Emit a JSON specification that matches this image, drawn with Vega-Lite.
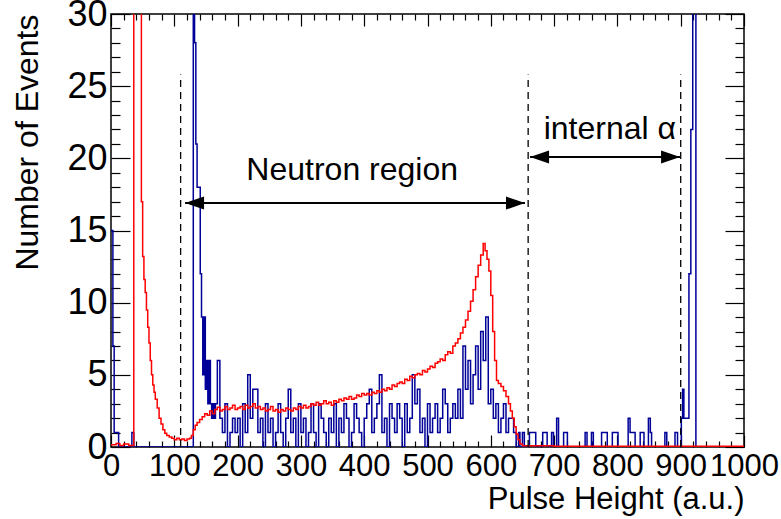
{
  "$schema": "https://vega.github.io/schema/vega-lite/v6.json",
  "width": 633,
  "height": 433,
  "autosize": {"type": "none"},
  "padding": {"left": 111, "top": 14, "right": 37, "bottom": 72},
  "background": "white",
  "config": {
    "view": {"stroke": "black", "strokeWidth": 1.5},
    "font": "Liberation Sans"
  },
  "datasets": {
    "red": [
      {"x":0,"y":0.15},{"x":8,"y":0.25},{"x":14,"y":0.1},{"x":20,"y":0.2},{"x":28,"y":0.1},{"x":36,"y":45},{"x":48,"y":17},{"x":50,"y":13.2},{"x":52,"y":11.6},{"x":54,"y":10.7},{"x":56,"y":9.5},{"x":58,"y":8.3},{"x":60,"y":7.2},{"x":62,"y":6.0},{"x":64,"y":5.0},{"x":66,"y":4.3},{"x":68,"y":3.8},{"x":70,"y":3.3},{"x":73,"y":2.7},{"x":76,"y":2.0},{"x":79,"y":1.6},{"x":82,"y":1.2},{"x":85,"y":0.95},{"x":88,"y":0.8},{"x":92,"y":0.7},{"x":96,"y":0.6},{"x":100,"y":0.5},{"x":104,"y":0.6},{"x":108,"y":0.5},{"x":112,"y":0.55},{"x":116,"y":0.45},{"x":120,"y":0.55},{"x":124,"y":0.6},{"x":127,"y":0.8},{"x":130,"y":1.2},{"x":133,"y":1.5},{"x":136,"y":1.7},{"x":140,"y":1.9},{"x":144,"y":2.1},{"x":148,"y":2.3},{"x":152,"y":2.2},{"x":156,"y":2.5},{"x":160,"y":2.3},{"x":164,"y":2.6},{"x":168,"y":2.75},{"x":172,"y":2.5},{"x":176,"y":2.6},{"x":180,"y":2.8},{"x":184,"y":2.6},{"x":188,"y":2.7},{"x":192,"y":2.9},{"x":196,"y":2.6},{"x":200,"y":2.7},{"x":204,"y":2.8},{"x":208,"y":2.6},{"x":212,"y":2.9},{"x":216,"y":2.7},{"x":220,"y":2.8},{"x":224,"y":3.0},{"x":228,"y":2.7},{"x":232,"y":2.8},{"x":236,"y":2.6},{"x":240,"y":2.7},{"x":244,"y":2.5},{"x":248,"y":2.6},{"x":252,"y":2.8},{"x":256,"y":2.5},{"x":260,"y":2.6},{"x":264,"y":2.4},{"x":268,"y":2.6},{"x":272,"y":2.5},{"x":276,"y":2.7},{"x":280,"y":2.6},{"x":284,"y":2.5},{"x":288,"y":2.7},{"x":292,"y":2.6},{"x":296,"y":2.8},{"x":300,"y":2.7},{"x":304,"y":2.9},{"x":308,"y":2.7},{"x":312,"y":2.8},{"x":316,"y":3.0},{"x":320,"y":2.9},{"x":324,"y":3.1},{"x":328,"y":2.9},{"x":332,"y":3.0},{"x":336,"y":3.2},{"x":340,"y":3.0},{"x":344,"y":3.1},{"x":348,"y":2.9},{"x":352,"y":3.2},{"x":356,"y":3.1},{"x":360,"y":3.3},{"x":364,"y":3.2},{"x":368,"y":3.4},{"x":372,"y":3.3},{"x":376,"y":3.5},{"x":380,"y":3.3},{"x":384,"y":3.4},{"x":388,"y":3.6},{"x":392,"y":3.5},{"x":396,"y":3.7},{"x":400,"y":3.6},{"x":404,"y":3.7},{"x":408,"y":3.6},{"x":412,"y":3.8},{"x":416,"y":3.7},{"x":420,"y":3.9},{"x":424,"y":3.8},{"x":428,"y":4.0},{"x":432,"y":3.9},{"x":436,"y":4.1},{"x":440,"y":4.0},{"x":444,"y":4.3},{"x":448,"y":4.2},{"x":452,"y":4.4},{"x":456,"y":4.5},{"x":460,"y":4.4},{"x":464,"y":4.7},{"x":468,"y":4.6},{"x":472,"y":4.9},{"x":476,"y":4.8},{"x":480,"y":5.0},{"x":484,"y":5.1},{"x":488,"y":5.0},{"x":492,"y":5.3},{"x":496,"y":5.2},{"x":500,"y":5.4},{"x":504,"y":5.6},{"x":508,"y":5.5},{"x":512,"y":5.8},{"x":516,"y":5.9},{"x":520,"y":6.1},{"x":524,"y":6.0},{"x":528,"y":6.4},{"x":532,"y":6.6},{"x":536,"y":6.5},{"x":540,"y":7.0},{"x":544,"y":7.2},{"x":548,"y":7.5},{"x":552,"y":7.9},{"x":556,"y":8.3},{"x":560,"y":8.8},{"x":564,"y":9.4},{"x":568,"y":10.1},{"x":572,"y":10.9},{"x":576,"y":11.8},{"x":580,"y":12.6},{"x":584,"y":13.3},{"x":588,"y":14.1},{"x":591,"y":13.6},{"x":594,"y":13.0},{"x":597,"y":12.2},{"x":600,"y":10.5},{"x":603,"y":8.0},{"x":606,"y":6.0},{"x":609,"y":4.6},{"x":612,"y":4.4},{"x":616,"y":4.2},{"x":620,"y":3.9},{"x":624,"y":3.5},{"x":628,"y":3.0},{"x":631,"y":2.5},{"x":634,"y":2.0},{"x":637,"y":1.4},{"x":640,"y":0.9},{"x":643,"y":0.5},{"x":646,"y":0.2},{"x":650,"y":0.08},{"x":700,"y":0.05},{"x":1000,"y":0.05}
    ],
    "blue": [
      {"x":0,"y":15},{"x":3,"y":7},{"x":5,"y":1},{"x":12,"y":0},{"x":33,"y":1},{"x":36,"y":0},{"x":130,"y":45},{"x":132,"y":28},{"x":134,"y":21},{"x":136,"y":18},{"x":141,"y":12},{"x":143,"y":9},{"x":145,"y":5},{"x":147,"y":9},{"x":149,"y":4},{"x":151,"y":6},{"x":153,"y":3},{"x":155,"y":6},{"x":157,"y":3},{"x":159,"y":2},{"x":161,"y":3},{"x":163,"y":2},{"x":165,"y":3},{"x":168,"y":6},{"x":172,"y":2},{"x":176,"y":1},{"x":180,"y":3},{"x":184,"y":0},{"x":188,"y":1},{"x":192,"y":2},{"x":196,"y":1},{"x":200,"y":2},{"x":204,"y":0},{"x":208,"y":3},{"x":212,"y":1},{"x":216,"y":5},{"x":220,"y":2},{"x":224,"y":4},{"x":228,"y":4},{"x":232,"y":1},{"x":236,"y":2},{"x":240,"y":0},{"x":244,"y":3},{"x":248,"y":1},{"x":252,"y":2},{"x":256,"y":0},{"x":260,"y":1},{"x":264,"y":3},{"x":268,"y":1},{"x":272,"y":0},{"x":276,"y":2},{"x":280,"y":4},{"x":284,"y":1},{"x":288,"y":2},{"x":292,"y":0},{"x":296,"y":3},{"x":300,"y":1},{"x":304,"y":2},{"x":308,"y":0},{"x":312,"y":1},{"x":316,"y":3},{"x":320,"y":1},{"x":324,"y":0},{"x":328,"y":3},{"x":332,"y":2},{"x":336,"y":1},{"x":340,"y":0},{"x":344,"y":2},{"x":348,"y":1},{"x":352,"y":3},{"x":356,"y":0},{"x":360,"y":2},{"x":364,"y":1},{"x":368,"y":3},{"x":372,"y":2},{"x":376,"y":0},{"x":380,"y":1},{"x":384,"y":3},{"x":388,"y":2},{"x":392,"y":1},{"x":396,"y":0},{"x":400,"y":2},{"x":404,"y":3},{"x":408,"y":4},{"x":412,"y":1},{"x":416,"y":2},{"x":420,"y":3},{"x":424,"y":5},{"x":428,"y":1},{"x":432,"y":2},{"x":436,"y":0},{"x":440,"y":3},{"x":444,"y":2},{"x":448,"y":1},{"x":452,"y":3},{"x":456,"y":2},{"x":460,"y":0},{"x":464,"y":3},{"x":468,"y":1},{"x":472,"y":2},{"x":476,"y":5},{"x":480,"y":3},{"x":484,"y":4},{"x":488,"y":1},{"x":492,"y":2},{"x":496,"y":0},{"x":500,"y":3},{"x":504,"y":1},{"x":508,"y":2},{"x":512,"y":3},{"x":516,"y":1},{"x":520,"y":2},{"x":524,"y":4},{"x":528,"y":3},{"x":532,"y":1},{"x":536,"y":2},{"x":540,"y":3},{"x":544,"y":2},{"x":548,"y":4},{"x":552,"y":2},{"x":556,"y":7},{"x":560,"y":4},{"x":564,"y":6},{"x":568,"y":3},{"x":572,"y":5},{"x":576,"y":7},{"x":580,"y":4},{"x":584,"y":8},{"x":588,"y":6},{"x":592,"y":9},{"x":596,"y":3},{"x":600,"y":4},{"x":604,"y":2},{"x":608,"y":3},{"x":612,"y":1},{"x":616,"y":2},{"x":620,"y":3},{"x":624,"y":1},{"x":628,"y":2},{"x":632,"y":2},{"x":636,"y":1},{"x":640,"y":0},{"x":644,"y":1},{"x":646,"y":0},{"x":650,"y":1},{"x":653,"y":0},{"x":661,"y":1},{"x":671,"y":0},{"x":682,"y":1},{"x":689,"y":0},{"x":696,"y":1},{"x":699,"y":0},{"x":704,"y":2},{"x":707,"y":0},{"x":715,"y":1},{"x":721,"y":0},{"x":749,"y":1},{"x":752,"y":0},{"x":759,"y":1},{"x":762,"y":0},{"x":775,"y":1},{"x":784,"y":0},{"x":792,"y":1},{"x":801,"y":0},{"x":817,"y":2},{"x":820,"y":1},{"x":828,"y":0},{"x":836,"y":1},{"x":842,"y":0},{"x":849,"y":2},{"x":852,"y":1},{"x":854,"y":0},{"x":875,"y":1},{"x":878,"y":0},{"x":891,"y":1},{"x":895,"y":0},{"x":901,"y":2},{"x":903,"y":4},{"x":905,"y":2},{"x":913,"y":12},{"x":916,"y":22},{"x":919,"y":60},{"x":924,"y":0},{"x":1000,"y":0}
    ],
    "vlines": [{"x":110,"y":0,"y2":25.8},{"x":659,"y":0,"y2":25.8},{"x":900,"y":0,"y2":25.8}],
    "arrows": [{"x":117,"x2":654,"y":16.9},{"x":662,"x2":899,"y":20.1}],
    "heads": [
      {"x":117,"y":16.9,"dir":"left"},{"x":654,"y":16.9,"dir":"right"},
      {"x":662,"y":20.1,"dir":"left"},{"x":899,"y":20.1,"dir":"right"}
    ],
    "labels": [{"x":381,"y":19.2,"text":"Neutron region"},{"x":788,"y":22.0,"text":"internal α"}]
  },
  "resolve": {"axis": {"x": "independent", "y": "independent"}},
  "layer": [
    {
      "data": {"name": "blue"},
      "mark": {"type": "line", "interpolate": "step-after", "color": "#000099", "strokeWidth": 1.5, "clip": true},
      "encoding": {
        "x": {"field": "x", "type": "quantitative", "scale": {"domain": [0, 1000], "nice": false, "zero": false},
          "axis": {"orient": "bottom", "values": [0,20,40,60,80,100,120,140,160,180,200,220,240,260,280,300,320,340,360,380,400,420,440,460,480,500,520,540,560,580,600,620,640,660,680,700,720,740,760,780,800,820,840,860,880,900,920,940,960,980,1000],
            "format": "d", "labelExpr": "datum.value % 100 === 0 ? datum.label : ''",
            "tickSize": {"condition": {"test": "datum.value % 100 === 0", "value": -12}, "value": -6},
            "labelPadding": 16, "domain": false, "grid": false, "labelOverlap": false, "labelFlush": false,
            "labelFont": "Liberation Sans", "labelFontSize": 31, "labelColor": "black", "tickColor": "black", "tickWidth": 1.2,
            "title": "Pulse Height (a.u.)", "titleAnchor": "end", "titleFont": "Liberation Sans", "titleFontSize": 31, "titleFontWeight": "normal", "titleColor": "black", "titlePadding": -3}},
        "y": {"field": "y", "type": "quantitative", "scale": {"domain": [0, 30], "nice": false, "zero": false},
          "axis": {"orient": "left", "values": [0,1,2,3,4,5,6,7,8,9,10,11,12,13,14,15,16,17,18,19,20,21,22,23,24,25,26,27,28,29,30],
            "format": "d", "labelExpr": "datum.value % 5 === 0 ? datum.label : ''",
            "tickSize": {"condition": {"test": "datum.value % 5 === 0", "value": -19}, "value": -9},
            "labelPadding": 23, "domain": false, "grid": false, "labelOverlap": false, "labelFlush": false,
            "labelFont": "Liberation Sans", "labelFontSize": 36, "labelColor": "black", "tickColor": "black", "tickWidth": 1.2,
            "title": "Number of Events", "titleAnchor": "end", "titleFont": "Liberation Sans", "titleFontSize": 32, "titleFontWeight": "normal", "titleColor": "black", "titlePadding": 22}}
      }
    },
    {
      "data": {"name": "red"},
      "mark": {"type": "line", "interpolate": "step-after", "color": "#ff0000", "strokeWidth": 1.5, "clip": true},
      "encoding": {
        "x": {"field": "x", "type": "quantitative",
          "axis": {"orient": "top", "values": [0,20,40,60,80,100,120,140,160,180,200,220,240,260,280,300,320,340,360,380,400,420,440,460,480,500,520,540,560,580,600,620,640,660,680,700,720,740,760,780,800,820,840,860,880,900,920,940,960,980,1000],
            "labels": false, "title": null, "domain": false, "grid": false,
            "tickSize": {"condition": {"test": "datum.value % 100 === 0", "value": -12}, "value": -6},
            "tickColor": "black", "tickWidth": 1.2}},
        "y": {"field": "y", "type": "quantitative",
          "axis": {"orient": "right", "values": [0,1,2,3,4,5,6,7,8,9,10,11,12,13,14,15,16,17,18,19,20,21,22,23,24,25,26,27,28,29,30],
            "labels": false, "title": null, "domain": false, "grid": false,
            "tickSize": {"condition": {"test": "datum.value % 5 === 0", "value": -19}, "value": -9},
            "tickColor": "black", "tickWidth": 1.2}}
      }
    },
    {
      "data": {"name": "vlines"},
      "mark": {"type": "rule", "color": "black", "strokeWidth": 1.3, "strokeDash": [7, 5]},
      "encoding": {
        "x": {"field": "x", "type": "quantitative", "axis": null},
        "y": {"field": "y", "type": "quantitative", "axis": null},
        "y2": {"field": "y2"}
      }
    },
    {
      "data": {"name": "arrows"},
      "mark": {"type": "rule", "color": "black", "strokeWidth": 2},
      "encoding": {
        "x": {"field": "x", "type": "quantitative", "axis": null},
        "x2": {"field": "x2"},
        "y": {"field": "y", "type": "quantitative", "axis": null}
      }
    },
    {
      "data": {"name": "heads"},
      "mark": {"type": "point", "filled": true, "color": "black", "opacity": 1, "size": 100, "strokeWidth": 0},
      "encoding": {
        "x": {"field": "x", "type": "quantitative", "axis": null},
        "y": {"field": "y", "type": "quantitative", "axis": null},
        "shape": {"field": "dir", "type": "nominal", "legend": null,
          "scale": {"domain": ["left", "right"], "range": ["M0,0L3.8,-1.3L3.8,1.3Z", "M0,0L-3.8,-1.3L-3.8,1.3Z"]}}
      }
    },
    {
      "data": {"name": "labels"},
      "mark": {"type": "text", "font": "Liberation Sans", "fontSize": 32, "color": "black", "align": "center", "baseline": "middle"},
      "encoding": {
        "x": {"field": "x", "type": "quantitative", "axis": null},
        "y": {"field": "y", "type": "quantitative", "axis": null},
        "text": {"field": "text"}
      }
    }
  ]
}
